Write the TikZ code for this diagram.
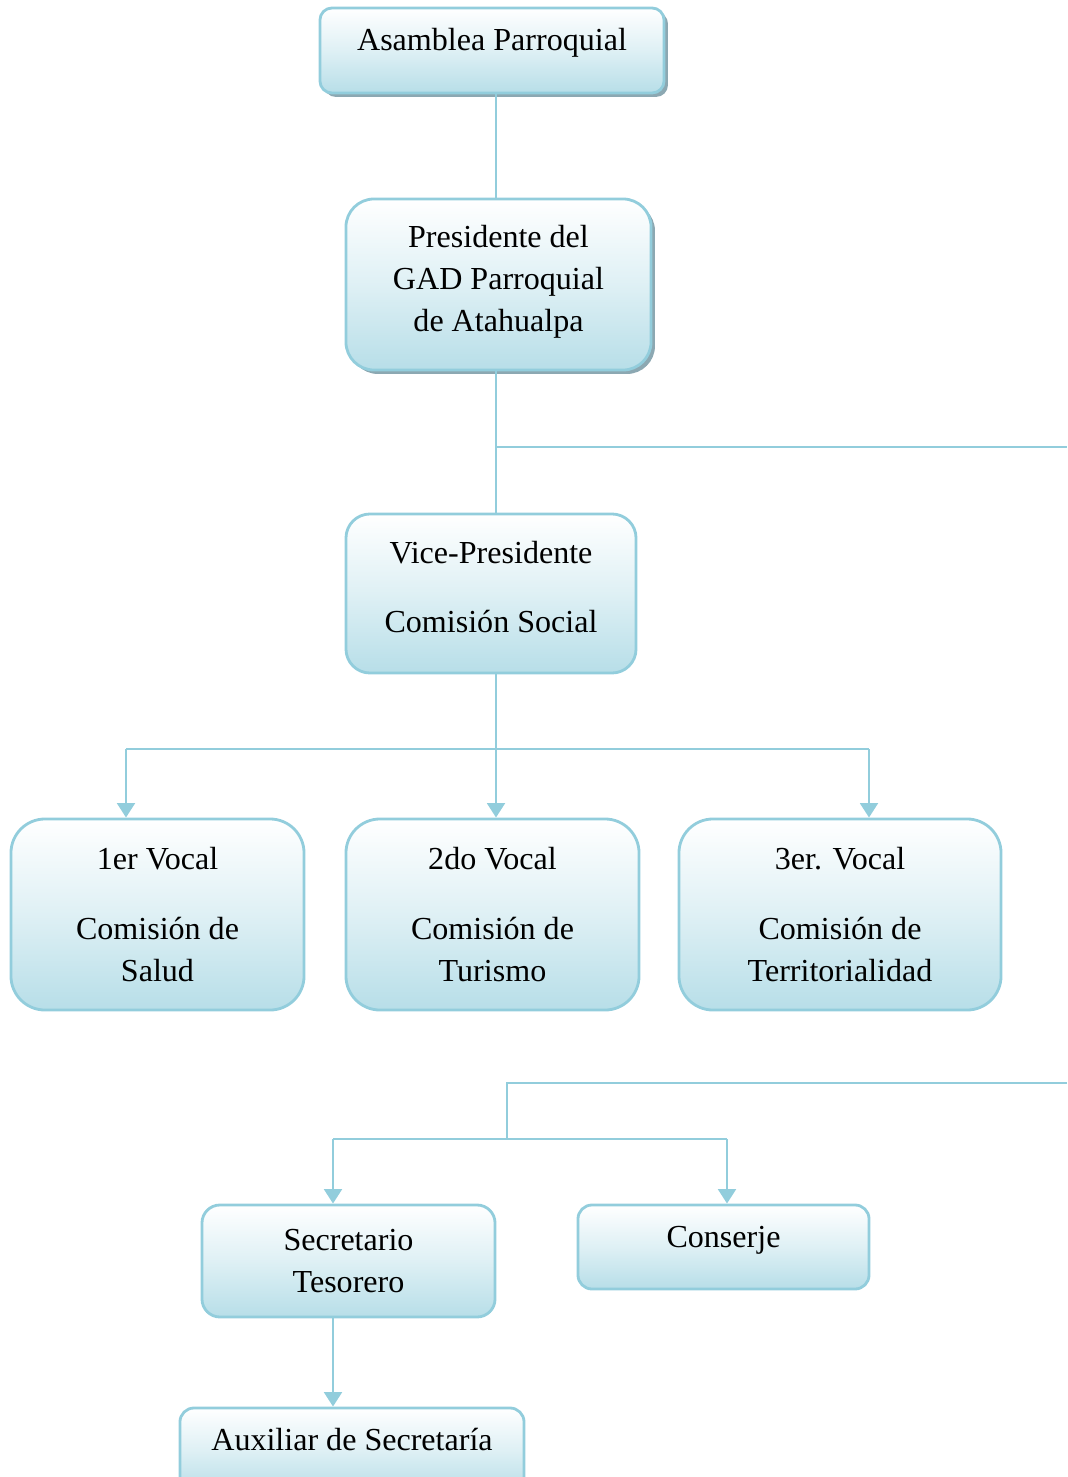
\documentclass[tikz,border=0pt]{standalone}
\usepackage{fontspec}
\setmainfont{Liberation Serif}
\usepackage{tikz}
\usetikzlibrary{positioning, arrows.meta, shadows, calc}
\definecolor{edgeblue}{RGB}{146,205,220}
\definecolor{fillblue}{RGB}{183,222,232}
\definecolor{shadowgray}{RGB}{140,168,178}
\tikzset{
  unit/.style  ={draw=edgeblue, line width=2pt, align=center, inner sep=2pt,
                 top color=white, bottom color=fillblue, middle color=white!55!fillblue,
                 font=\fontsize{22.8}{30}\selectfont},
  lifted/.style={drop shadow={shadow xshift=2.8pt, shadow yshift=-2.8pt,
                 fill=shadowgray, opacity=1}},
  link/.style  ={draw=edgeblue, line width=2.1pt},
  flow/.style  ={link, -{Triangle[width=4.4mm, length=3.6mm]}},
}
\begin{document}
\begin{tikzpicture}[x=0.025cm, y=-0.025cm]
  \useasboundingbox (0,0) rectangle (1067,1477);
  \node[unit, lifted, rounded corners=0.3cm, minimum width=8.6cm, minimum height=2.125cm,
        text height=15pt, text depth=15pt] (asamblea) at (492,50.5) {Asamblea Parroquial};
  \node[unit, lifted, rounded corners=0.7cm, minimum width=7.625cm, minimum height=4.275cm,
        text depth=9pt] (presidente) at (498.5,284.5) {Presidente del\\GAD Parroquial\\de Atahualpa};
  \node[unit, rounded corners=0.6cm, minimum width=7.25cm, minimum height=3.975cm,
        text depth=9.5pt] (vice) at (491,593.5) {Vice-Presidente\\[19pt]Comisión Social};
  \node[unit, rounded corners=0.85cm, minimum width=7.325cm, minimum height=4.775cm]
        (vocal1) at (157.5,914.5) {1er Vocal\\[20pt]Comisión de\\Salud};
  \node[unit, rounded corners=0.85cm, minimum width=7.325cm, minimum height=4.775cm]
        (vocal2) at (492.5,914.5) {2do Vocal\\[20pt]Comisión de\\Turismo};
  \node[unit, rounded corners=0.85cm, minimum width=8.05cm, minimum height=4.775cm]
        (vocal3) at (840,914.5) {3er. Vocal\\[20pt]Comisión de\\Territorialidad};
  \node[unit, rounded corners=0.45cm, minimum width=7.325cm, minimum height=2.8cm]
        (secretario) at (348.5,1261) {Secretario\\Tesorero};
  \node[unit, rounded corners=0.35cm, minimum width=7.275cm, minimum height=2.1cm,
        text height=15pt, text depth=15pt] (conserje) at (723.5,1247) {Conserje};
  \node[unit, rounded corners=0.35cm, minimum width=8.6cm, minimum height=2.1cm,
        text height=15pt, text depth=15pt] (auxiliar) at (352,1450) {Auxiliar de Secretaría};

  \coordinate (spine) at (496,0);
  \coordinate (edgeA) at (1067,447);
  \coordinate (b1) at (126,749);
  \coordinate (b3) at (869,749);
  \coordinate (edgeB) at (1067,1083);
  \coordinate (s2) at (507,1139);
  \coordinate (c1) at (333,1139);
  \coordinate (c2) at (727,1139);

  \draw[link] (asamblea.south -| spine) -- (presidente.north -| spine);
  \draw[link] (presidente.south -| spine) -- (vice.north -| spine);
  \draw[link] (spine |- edgeA) -- (edgeA);
  \draw[link] (vice.south -| spine) -- (spine |- b1);
  \draw[link] (b1) -- (b3);
  \draw[flow] (b1) -- (b1 |- vocal1.north);
  \draw[flow] (spine |- b1) -- (spine |- vocal2.north);
  \draw[flow] (b3) -- (b3 |- vocal3.north);
  \draw[link] (edgeB) -| (s2);
  \draw[link] (c1) -- (c2);
  \draw[flow] (c1) -- (c1 |- secretario.north);
  \draw[flow] (c2) -- (c2 |- conserje.north);
  \draw[flow] (secretario.south -| c1) -- (c1 |- auxiliar.north);
\end{tikzpicture}
\end{document}
